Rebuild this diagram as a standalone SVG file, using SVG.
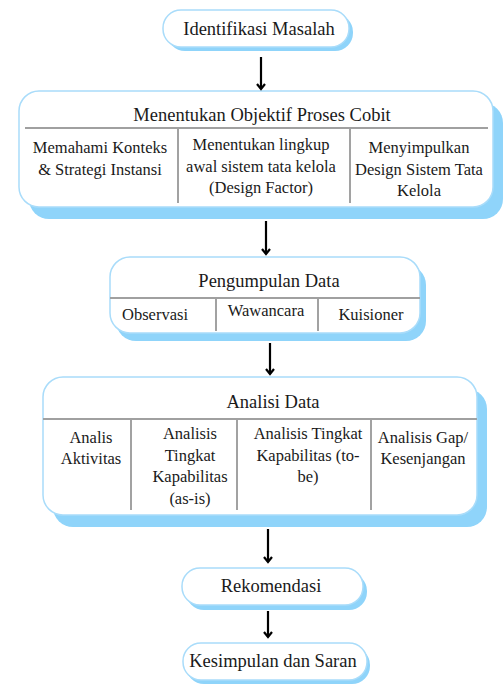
<svg xmlns="http://www.w3.org/2000/svg" width="504" height="689" viewBox="0 0 504 689">
<defs>
<style>
.shadow{fill:#8fd4fa;}
.box{fill:#ffffff;stroke:#a9dcfa;stroke-width:1.5;}
.hline{stroke:#a0a0a0;stroke-width:2;}
.vline{stroke:#707070;stroke-width:1.3;}
.t{font-size:18.5px;fill:#1a1a1a;text-anchor:middle;}
.c{font-size:16.5px;fill:#1a1a1a;text-anchor:middle;}
.arrow{stroke:#000;stroke-width:2.2;fill:none;}
</style>
<marker id="ah" markerWidth="10" markerHeight="10" refX="8" refY="5" orient="auto" markerUnits="userSpaceOnUse" viewBox="0 0 10 10">
<path d="M3,1 L8,5 L3,9" fill="none" stroke="#000" stroke-width="2.2"/>
</marker>
</defs>
<rect width="504" height="689" fill="#ffffff"/>
<g font-family="'Liberation Serif', 'Times New Roman', 'DejaVu Serif', serif">
<g id="n1">
<rect class="shadow" x="167" y="14" width="186" height="37" rx="18"/>
<rect class="box" x="163" y="10" width="186" height="37" rx="18"/>
<text class="t" x="259" y="35">Identifikasi Masalah</text>
</g>

<g id="n2">
<rect class="shadow" x="29" y="103" width="474" height="116" rx="20"/>
<rect class="box" x="19" y="91" width="474" height="116" rx="20"/>
<line class="hline" x1="25" y1="128" x2="488" y2="128"/>
<line class="vline" x1="178" y1="129" x2="178" y2="203"/>
<line class="vline" x1="350" y1="129" x2="350" y2="203"/>
<text class="t" x="262" y="121">Menentukan Objektif Proses Cobit</text>
<text class="c" x="100" y="153">Memahami Konteks</text>
<text class="c" x="100" y="175">&amp; Strategi Instansi</text>
<text class="c" x="261" y="150">Menentukan lingkup</text>
<text class="c" x="261" y="172">awal sistem tata kelola</text>
<text class="c" x="261" y="193">(Design Factor)</text>
<text class="c" x="419" y="153">Menyimpulkan</text>
<text class="c" x="419" y="175">Design Sistem Tata</text>
<text class="c" x="419" y="196">Kelola</text>
</g>

<g id="n3">
<rect class="shadow" x="116" y="265" width="310" height="76" rx="20"/>
<rect class="box" x="110" y="257" width="310" height="76" rx="20"/>
<line class="hline" x1="110" y1="298" x2="420" y2="298"/>
<line class="vline" x1="216" y1="299" x2="216" y2="331"/>
<line class="vline" x1="318" y1="299" x2="318" y2="331"/>
<text class="t" x="269" y="287">Pengumpulan Data</text>
<text class="c" x="155" y="320">Observasi</text>
<text class="c" x="266" y="316">Wawancara</text>
<text class="c" x="371" y="320">Kuisioner</text>
</g>

<g id="n4">
<rect class="shadow" x="53" y="389" width="434" height="138" rx="20"/>
<rect class="box" x="43" y="377" width="434" height="138" rx="20"/>
<line class="hline" x1="43" y1="419" x2="477" y2="419"/>
<line class="vline" x1="131" y1="420" x2="131" y2="510"/>
<line class="vline" x1="237" y1="420" x2="237" y2="510"/>
<line class="vline" x1="371" y1="420" x2="371" y2="510"/>
<text class="t" x="273" y="408">Analisi Data</text>
<text class="c" x="91" y="443">Analis</text>
<text class="c" x="91" y="464">Aktivitas</text>
<text class="c" x="190" y="439">Analisis</text>
<text class="c" x="190" y="461">Tingkat</text>
<text class="c" x="190" y="482">Kapabilitas</text>
<text class="c" x="190" y="504">(as-is)</text>
<text class="c" x="308" y="439">Analisis Tingkat</text>
<text class="c" x="308" y="461">Kapabilitas (to-</text>
<text class="c" x="308" y="482">be)</text>
<text class="c" x="423" y="443">Analisis Gap/</text>
<text class="c" x="423" y="464">Kesenjangan</text>
</g>

<g id="n5">
<rect class="shadow" x="186" y="573" width="181" height="37" rx="18"/>
<rect class="box" x="182" y="568" width="181" height="37" rx="18"/>
<text class="t" x="271" y="592">Rekomendasi</text>
</g>

<g id="n6">
<rect class="shadow" x="186" y="647" width="184" height="37" rx="18"/>
<rect class="box" x="183" y="643" width="184" height="37" rx="18"/>
<text class="t" x="273" y="667">Kesimpulan dan Saran</text>
</g>
</g>
<g id="connectors">
<line class="arrow" x1="261" y1="57" x2="261" y2="89" marker-end="url(#ah)"/>
<line class="arrow" x1="266" y1="221" x2="266" y2="254" marker-end="url(#ah)"/>
<line class="arrow" x1="270" y1="343" x2="270" y2="374" marker-end="url(#ah)"/>
<line class="arrow" x1="268" y1="529" x2="268" y2="562" marker-end="url(#ah)"/>
<line class="arrow" x1="268" y1="611" x2="268" y2="637" marker-end="url(#ah)"/>
</g>
</svg>
